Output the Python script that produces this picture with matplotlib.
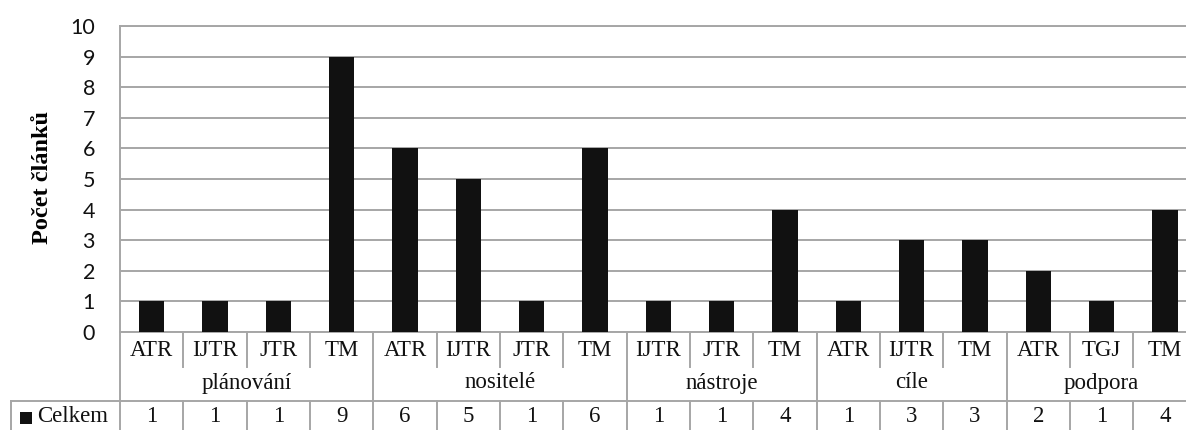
import matplotlib
matplotlib.use("Agg")
import matplotlib.pyplot as plt
from matplotlib.transforms import blended_transform_factory
from matplotlib.patches import Rectangle

# Categories, sub-categories and article counts
groups = ["plánování", "nositelé", "nástroje", "cíle", "podpora"]
subcats = [
    ["ATR", "IJTR", "JTR", "TM"],
    ["ATR", "IJTR", "JTR", "TM"],
    ["IJTR", "JTR", "TM"],
    ["ATR", "IJTR", "TM"],
    ["ATR", "TGJ", "TM"],
]
counts = [
    [1, 1, 1, 9],
    [6, 5, 1, 6],
    [1, 1, 4],
    [1, 3, 3],
    [2, 1, 4],
]
series_name = "Celkem"
y_label = "Počet článků"
y_ticks = list(range(0, 11))

W, H = 1186, 430
fig = plt.figure(figsize=(W / 100, H / 100), dpi=100)
fig.patch.set_facecolor("white")

def fx(px):
    return px / W

def fy(py):
    return 1 - py / H

ax_left, ax_right, ax_top, ax_bottom = 120, 1196.5, 26, 332
ax = fig.add_axes([fx(ax_left), fy(ax_bottom), fx(ax_right - ax_left),
                   (ax_bottom - ax_top) / H])

labels = [s for g in subcats for s in g]
values = [v for g in counts for v in g]
xs = list(range(len(values)))

grid_col = "#a6a6a6"
ax.bar(xs, values, width=0.4, color="#111111", zorder=3)
ax.set_xlim(-0.5, len(values) - 0.5)
ax.set_ylim(0, 10)
ax.set_yticks(y_ticks)
ax.set_xticks([])
ax.yaxis.grid(True, color=grid_col, linewidth=1.4, zorder=0)
ax.set_axisbelow(True)
for sp in ax.spines.values():
    sp.set_color(grid_col)
    sp.set_linewidth(1.4)
ax.spines["right"].set_visible(False)
ax.tick_params(axis="y", length=0, pad=18, labelsize=15.5, labelcolor="#111111")
for t in ax.get_yticklabels():
    t.set_fontfamily("Lato")

fig.text(fx(43), fy(178), y_label, rotation=90, ha="center", va="center",
         fontsize=17.5, fontweight="bold", family="Liberation Serif")

# Category table below the axis
tr = blended_transform_factory(ax.transData, fig.transFigure)
serif = dict(family="Liberation Serif", fontsize=16.5, color="#111111",
             ha="center", va="center")
line_kw = dict(color=grid_col, linewidth=1.4, clip_on=False)

row1_bot, row2_bot, fig_bot = 367, 401, H + 5

# left border of the plot area continues through the table
ax.plot([-0.5, -0.5], [fy(ax_bottom), fy(fig_bot)], transform=tr, **line_kw)

group_starts = []
pos = 0
for g in subcats:
    group_starts.append(pos)
    pos += len(g)

for i in range(1, len(values)):
    b = i - 0.5
    if i in group_starts:
        ax.plot([b, b], [fy(ax_bottom), fy(fig_bot)], transform=tr, **line_kw)
    else:
        ax.plot([b, b], [fy(ax_bottom), fy(row1_bot)], transform=tr, **line_kw)
        ax.plot([b, b], [fy(row2_bot), fy(fig_bot)], transform=tr, **line_kw)

# data row frame
fig.add_artist(plt.Line2D([fx(11), fx(ax_right)], [fy(row2_bot), fy(row2_bot)],
                          color=grid_col, linewidth=1.4))
fig.add_artist(plt.Line2D([fx(11), fx(11)], [fy(row2_bot), fy(fig_bot)],
                          color=grid_col, linewidth=1.4))

for x, lab, v in zip(xs, labels, values):
    ax.text(x, fy(351), lab, transform=tr, **serif)
    ax.text(x, fy(417), str(v), transform=tr, **serif)

for gname, start, g in zip(groups, group_starts, subcats):
    center = start + (len(g) - 1) / 2
    ax.text(center, fy(383), gname, transform=tr, **serif)

# legend key and series name
fig.add_artist(Rectangle((fx(20), fy(424)), fx(12), 12 / H,
                         facecolor="#111111", edgecolor="none",
                         transform=fig.transFigure))
fig.text(fx(37), fy(417), series_name, family="Liberation Serif", fontsize=16.5,
         color="#111111", ha="left", va="center")

fig.savefig("out.png", dpi=100, facecolor="white")
